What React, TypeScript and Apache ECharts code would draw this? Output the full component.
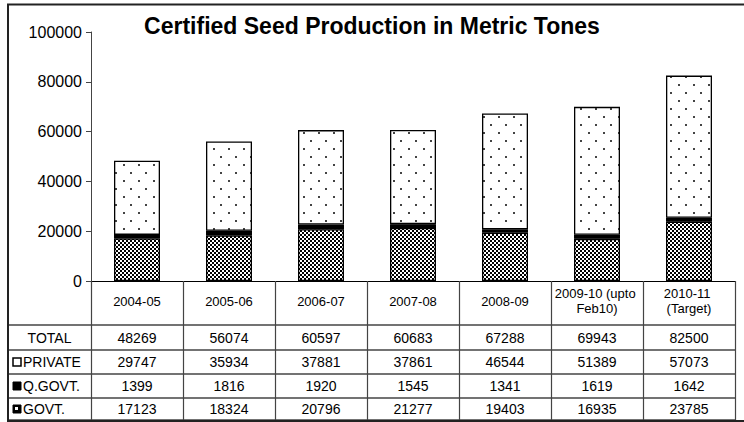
import React, { useEffect, useRef } from 'react';
import * as echarts from 'echarts';

const TITLE = 'Certified Seed Production in Metric Tones';
const categories = ['2004-05', '2005-06', '2006-07', '2007-08', '2008-09', '2009-10 (upto Feb10)', '2010-11 (Target)'];
const totalVals = [48269, 56074, 60597, 60683, 67288, 69943, 82500];
const privateVals = [29747, 35934, 37881, 37861, 46544, 51389, 57073];
const qGovtVals = [1399, 1816, 1920, 1545, 1341, 1619, 1642];
const govtVals = [17123, 18324, 20796, 21277, 19403, 16935, 23785];
const rowNames = ['TOTAL', 'PRIVATE', 'Q.GOVT.', 'GOVT.'];
const Y_MIN = 0;
const Y_MAX = 100000;
const Y_INTERVAL = 20000;

const FONT = '"Liberation Sans", Arial, Helvetica, sans-serif';

function makeDots(): HTMLCanvasElement {
  const c = document.createElement('canvas');
  c.width = 15;
  c.height = 16;
  const g = c.getContext('2d')!;
  g.fillStyle = '#ffffff';
  g.fillRect(0, 0, 15, 16);
  g.fillStyle = '#444444';
  g.fillRect(3, 4, 2, 2);
  g.fillRect(10, 12, 2, 2);
  return c;
}

function makeChecker(): HTMLCanvasElement {
  const c = document.createElement('canvas');
  c.width = 4;
  c.height = 4;
  const g = c.getContext('2d')!;
  g.fillStyle = '#000000';
  g.fillRect(0, 0, 4, 4);
  g.fillStyle = '#ffffff';
  g.fillRect(0, 0, 2, 2);
  g.fillRect(2, 2, 2, 2);
  return c;
}

export default function App() {
  const ref = useRef<HTMLDivElement>(null);

  useEffect(() => {
    if (!ref.current) return;
    const chart = echarts.init(ref.current, undefined, { renderer: 'svg' });

    const W = 744;
    const gridLeft = 91;
    const gridRightX = 735;
    const gridTop = 32;
    const axisY = 281;
    const rowLines = [325, 350, 374, 398, 420];
    const tableLeft = 8;

    const dots = makeDots();
    const checker = makeChecker();
    const dotsPattern: any = { image: dots, repeat: 'repeat', imageWidth: 15, imageHeight: 16 };
    const checkerPattern: any = { image: checker, repeat: 'repeat', imageWidth: 4, imageHeight: 4 };

    const rows = [
      { name: rowNames[0], values: totalVals, key: null as any },
      { name: rowNames[1], values: privateVals, key: 'private' },
      { name: rowNames[2], values: qGovtVals, key: 'qgovt' },
      { name: rowNames[3], values: govtVals, key: 'govt' },
    ];

    const rowCenters = rows.map((_, i) => (rowLines[i] + rowLines[i + 1]) / 2);

    const extraXAxes = rows.map((r, i) => ({
      type: 'category',
      gridIndex: 0,
      position: 'bottom',
      data: r.values.map((v) => String(v)),
      axisLine: { show: false, onZero: false },
      axisTick: { show: false },
      splitLine: { show: false },
      axisLabel: {
        interval: 0,
        margin: rowCenters[i] - axisY,
        verticalAlign: 'middle',
        fontSize: 14,
        color: '#000',
        fontFamily: FONT,
      },
    }));

    const graphics: any[] = [];
    rowLines.forEach((y) => {
      graphics.push({
        type: 'line',
        shape: { x1: tableLeft, y1: y, x2: gridRightX, y2: y },
        style: { stroke: '#444', lineWidth: 1.5 },
        silent: true,
      });
    });
    rows.forEach((r, i) => {
      const cy = rowCenters[i];
      if (!r.key) {
        graphics.push({
          type: 'text',
          x: (tableLeft + gridLeft) / 2,
          y: cy,
          style: {
            text: r.name,
            fontSize: 14,
            fontFamily: FONT,
            fill: '#000',
            align: 'center',
            verticalAlign: 'middle',
          },
          silent: true,
        });
      } else {
        const kx = 13;
        const ks = 8;
        if (r.key === 'private') {
          graphics.push({
            type: 'rect',
            shape: { x: kx, y: cy - ks / 2, width: ks, height: ks },
            style: { fill: '#fff', stroke: '#000', lineWidth: 1.5 },
            silent: true,
          });
        } else if (r.key === 'qgovt') {
          graphics.push({
            type: 'rect',
            shape: { x: kx, y: cy - ks / 2, width: ks, height: ks },
            style: { fill: '#000', stroke: '#000', lineWidth: 1 },
            silent: true,
          });
        } else {
          graphics.push({
            type: 'rect',
            shape: { x: kx, y: cy - ks / 2, width: ks, height: ks },
            style: { fill: '#000', stroke: '#000', lineWidth: 1 },
            silent: true,
          });
          graphics.push({
            type: 'rect',
            shape: { x: kx + 2, y: cy - ks / 2 + 2, width: 3, height: 3 },
            style: { fill: '#fff' },
            silent: true,
          });
        }
        graphics.push({
          type: 'text',
          x: 23,
          y: cy,
          style: {
            text: r.name,
            fontSize: 14,
            fontFamily: FONT,
            fill: '#000',
            align: 'left',
            verticalAlign: 'middle',
          },
          silent: true,
        });
      }
    });
    graphics.push({
      type: 'rect',
      shape: { x: 8, y: 4.5, width: 745, height: 416.5 },
      style: { fill: 'none', stroke: '#222', lineWidth: 2 },
      silent: true,
      z: 100,
    });

    const barItem = (color: any) => ({ color, borderColor: '#000', borderWidth: 1.3 });

    chart.setOption({
      animation: false,
      backgroundColor: '#fff',
      title: {
        text: TITLE,
        left: 'center',
        top: 9,
        textStyle: { fontSize: 23, fontWeight: 'bold', fontFamily: FONT, color: '#000' },
      },
      grid: {
        left: gridLeft,
        right: W - gridRightX,
        top: gridTop,
        bottom: 422 - axisY,
        containLabel: false,
      },
      xAxis: [
        {
          type: 'category',
          gridIndex: 0,
          position: 'bottom',
          data: categories,
          axisLine: { show: true, onZero: false, lineStyle: { color: '#000', width: 1 } },
          axisTick: { show: true, length: rowLines[rowLines.length - 1] - axisY, lineStyle: { color: '#444', width: 1.2 } },
          splitLine: { show: false },
          axisLabel: {
            interval: 0,
            margin: 20,
            verticalAlign: 'middle',
            fontSize: 13,
            lineHeight: 15,
            color: '#000',
            fontFamily: FONT,
            width: 86,
            overflow: 'break',
          },
        },
        ...extraXAxes,
      ],
      yAxis: {
        type: 'value',
        min: Y_MIN,
        max: Y_MAX,
        interval: Y_INTERVAL,
        axisLine: { show: true, lineStyle: { color: '#444', width: 1 } },
        axisTick: { show: true, inside: false, length: 5, lineStyle: { color: '#444' } },
        splitLine: { show: false },
        axisLabel: {
          fontSize: 16,
          color: '#000',
          fontFamily: FONT,
          margin: 9,
          formatter: (v: number) => String(v),
        },
      },
      series: [
        {
          name: rowNames[3],
          type: 'bar',
          stack: 'seed',
          barWidth: '50%',
          data: govtVals,
          itemStyle: barItem(checkerPattern),
        },
        {
          name: rowNames[2],
          type: 'bar',
          stack: 'seed',
          barWidth: '50%',
          data: qGovtVals,
          itemStyle: barItem('#000'),
        },
        {
          name: rowNames[1],
          type: 'bar',
          stack: 'seed',
          barWidth: '50%',
          data: privateVals,
          itemStyle: barItem(dotsPattern),
        },
      ],
      graphic: graphics,
    });

    return () => chart.dispose();
  }, []);

  return (
    <div
      ref={ref}
      style={{ position: 'fixed', left: 0, top: 0, width: 744, height: 422, background: '#fff' }}
    />
  );
}
